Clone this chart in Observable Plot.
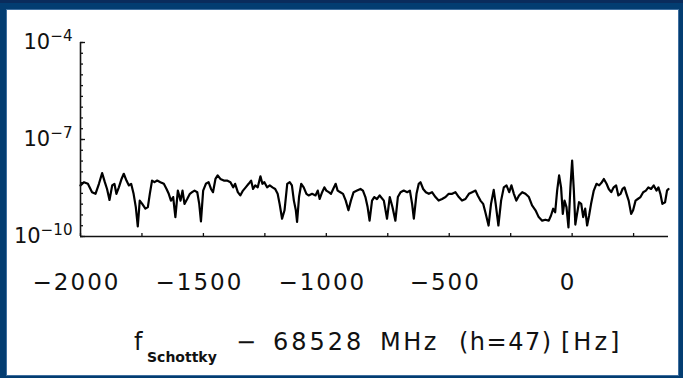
<!DOCTYPE html>
<html>
<head>
<meta charset="utf-8">
<script src="https://cdn.jsdelivr.net/npm/d3@7"></script>
<script src="https://cdn.jsdelivr.net/npm/@observablehq/plot@0.6"></script>
<style>
  html, body { margin: 0; padding: 0; }
  body { width: 683px; height: 378px; background: #033d71; position: relative; overflow: hidden; font-family: "DejaVu Sans", sans-serif; }
  #strip { position: absolute; left: 0; top: 0; width: 683px; height: 3px; background: #0a2c5c; }
  #panel { position: absolute; left: 7px; top: 10px; width: 671px; height: 365px; background: #fff; box-shadow: 0 0 0 1px #3f6f9f; }
  #chart { position: absolute; left: 0; top: 0; }
  .tt { position: absolute; top: 330px; font-size: 24px; line-height: 24px; white-space: pre; color: #111; letter-spacing: 1.5px; }
  .tt.sub { top: 350px; font-size: 14px; line-height: 14px; font-weight: bold; letter-spacing: 0; }
</style>
</head>
<body>
<div id="strip"></div>
<div id="panel"></div>
<div id="chart"></div>
<div id="xtitle">
  <span class="tt" style="left:134px">f</span>
  <span class="tt sub" style="left:147px">Schottky</span>
  <span class="tt" style="left:236px">−</span>
  <span class="tt" style="left:273px; letter-spacing:3px">68528</span>
  <span class="tt" style="left:380px; letter-spacing:2.5px">MHz</span>
  <span class="tt" style="left:459px">(h=47)</span>
  <span class="tt" style="left:561px; letter-spacing:3px">[Hz]</span>
</div>
<script>
// Schottky noise spectrum: frequency offset (Hz) and log10 of spectral power
const freq = [
  -2000, -1986, -1970, -1953, -1939, -1925, -1912, -1901, -1892, -1882,
  -1871, -1862, -1854, -1844, -1833, -1824, -1813, -1803, -1794, -1784,
  -1775, -1767, -1759, -1749, -1736, -1726, -1718, -1709, -1699, -1688,
  -1675, -1661, -1650, -1641, -1632, -1623, -1614, -1604, -1593, -1585,
  -1577, -1566, -1555, -1546, -1536, -1525, -1517, -1510, -1501, -1490,
  -1479, -1469, -1461, -1451, -1442, -1431, -1417, -1404, -1390, -1379,
  -1371, -1360, -1350, -1339, -1328, -1316, -1306, -1298, -1289, -1279,
  -1268, -1260, -1252, -1241, -1230, -1219, -1208, -1198, -1190, -1180,
  -1170, -1159, -1149, -1140, -1132, -1124, -1119, -1111, -1102, -1092,
  -1081, -1072, -1058, -1044, -1035, -1027, -1017, -1008, -1000, -990,
  -981, -972, -962, -954, -943, -932, -921, -910, -900, -889,
  -875, -861, -851, -841, -832, -824, -814, -805, -794, -783,
  -766, -753, -742, -731, -719, -709, -698, -685, -671, -660,
  -651, -644, -633, -624, -617, -606, -595, -583, -570, -556,
  -543, -529, -515, -502, -488, -475, -461, -448, -434, -420,
  -407, -393, -384, -373, -362, -353, -340, -330, -319, -311,
  -300, -289, -278, -267, -256, -247, -237, -227, -216, -203,
  -190, -176, -163, -149, -136, -122, -109, -95, -86, -77,
  -69, -61, -53, -45, -38, -31, -23, -15, -7, 0,
  7, 13, 20, 28, 37, 45, 53, 61, 69, 77,
  88, 99, 110, 121, 129, 140, 149, 159, 169, 179,
  188, 197, 205, 213, 221, 230, 240, 248, 258, 267,
  278, 289, 300, 310, 321, 332, 343, 351, 359, 367,
  378, 386, 392
];
const level = [
  -8.42, -8.32, -8.37, -8.63, -8.68, -8.37, -8.04, -8.32, -8.53, -8.87,
  -8.42, -8.37, -8.68, -8.48, -8.22, -8.06, -8.27, -8.42, -8.37, -8.68,
  -9.09, -9.69, -8.89, -8.99, -9.14, -9.09, -8.68, -8.27, -8.32, -8.27,
  -8.32, -8.37, -8.53, -8.68, -8.89, -8.78, -9.40, -8.58, -8.89, -8.58,
  -8.99, -8.84, -8.68, -8.63, -8.58, -8.63, -8.99, -9.53, -8.58, -8.37,
  -8.32, -8.53, -8.63, -8.22, -8.11, -8.22, -8.27, -8.27, -8.32, -8.48,
  -8.37, -8.63, -8.73, -8.58, -8.48, -8.37, -8.27, -8.53, -8.42, -8.48,
  -8.14, -8.37, -8.32, -8.48, -8.42, -8.48, -8.53, -8.68, -8.99, -9.45,
  -9.19, -8.37, -8.32, -8.42, -8.89, -9.19, -9.55, -8.78, -8.37, -8.48,
  -8.68, -8.73, -8.68, -8.73, -8.58, -8.84, -8.63, -8.48, -8.58, -8.63,
  -8.68, -8.53, -8.37, -8.58, -8.63, -8.68, -8.89, -9.19, -8.89, -8.63,
  -8.58, -8.53, -8.58, -8.78, -9.09, -9.51, -8.89, -8.78, -8.84, -8.73,
  -8.89, -9.45, -8.78, -9.09, -9.51, -8.78, -8.63, -8.58, -8.63, -8.58,
  -8.99, -9.45, -8.68, -8.37, -8.32, -8.53, -8.63, -8.68, -8.63, -8.78,
  -8.89, -8.84, -8.78, -8.68, -8.68, -8.63, -8.78, -8.89, -8.84, -8.68,
  -8.63, -8.58, -8.73, -8.89, -8.99, -9.25, -9.66, -8.99, -8.56, -8.99,
  -9.66, -8.89, -8.48, -8.42, -8.63, -8.42, -8.68, -8.89, -8.73, -8.63,
  -8.68, -8.78, -9.04, -9.19, -9.40, -9.51, -9.48, -9.51, -9.35, -9.14,
  -9.25, -8.58, -8.11, -8.48, -9.30, -8.89, -9.09, -9.72, -8.48, -7.65,
  -8.58, -9.63, -9.30, -8.94, -8.99, -9.40, -9.14, -9.66, -9.35, -8.99,
  -8.58, -8.37, -8.42, -8.32, -8.22, -8.37, -8.53, -8.63, -8.48, -8.42,
  -8.73, -8.68, -8.53, -8.48, -8.68, -8.89, -9.30, -9.19, -8.89, -8.84,
  -8.78, -8.63, -8.58, -8.48, -8.53, -8.42, -8.58, -8.48, -8.68, -8.99,
  -8.94, -8.58, -8.53
];

// Axis ticks
const xLabelTicks = [-2000, -1500, -1000, -500, 0];
const xMinorTicks = [-2000, -1750, -1500, -1250, -1000, -750, -500, -250, 0, 250];
const yLabelTicks = [1e-4, 1e-7, 1e-10];
const yMinorTicks = d3.range(-30, -11).map(k => 10 ** (k / 3));

const spectrum = freq.map((f, i) => ({f, p: 10 ** level[i]}));

const W = 683, H = 300;
const mL = 80, mR = 15, mT = 42, mB = 64;
const frameW = W - mL - mR, frameH = H - mT - mB;

const chart = Plot.plot({
  width: W,
  height: H,
  marginLeft: mL,
  marginRight: mR,
  marginTop: mT,
  marginBottom: mB,
  style: {background: "transparent", fontFamily: "DejaVu Sans, sans-serif", color: "#111"},
  x: {domain: [-2000, 392]},
  y: {type: "log", domain: [1e-10, 1e-4]},
  marks: [
    // inward ticks on both axes
    Plot.ruleX(xMinorTicks, {x: d => d, insetTop: frameH - 3, stroke: "#111", strokeWidth: 1.3}),
    Plot.ruleY(yMinorTicks, {y: d => d, insetRight: frameW - 3, stroke: "#111", strokeWidth: 1.3}),
    Plot.ruleY(yLabelTicks, {y: d => d, insetRight: frameW - 5, stroke: "#111", strokeWidth: 1.3}),
    // tick labels
    Plot.axisX({ticks: xLabelTicks, tickSize: 0, tickPadding: 37, fontSize: 23, dx: -4, label: null,
                tickFormat: d => d < 0 ? "\u2212" + Math.abs(d) : String(d)}),
    Plot.axisY({ticks: yLabelTicks, tickSize: 0, tickPadding: 8, fontSize: 21, label: null,
                tickFormat: d => "10^\u2212" + Math.round(-Math.log10(d))}),
    // the spectrum trace
    Plot.line(spectrum, {x: "f", y: "p", stroke: "#000", strokeWidth: 2.2, strokeLinejoin: "round"}),
    // axis lines
    Plot.ruleX([-2000], {stroke: "#111", strokeWidth: 1.6}),
    Plot.ruleY([1e-10], {stroke: "#111", strokeWidth: 1.6})
  ]
});

// wider spacing for the frequency labels
d3.select(chart).selectAll('g[aria-label="x-axis tick label"] text')
  .attr("letter-spacing", "2px");

// powers of ten: split "10^−n" into base and superscript
d3.select(chart).selectAll('g[aria-label="y-axis tick label"] text').each(function () {
  const [base, exp] = this.textContent.split("^");
  this.textContent = base;
  d3.select(this).append("tspan").attr("dy", "-0.55em").attr("font-size", "0.72em").text(exp);
});

document.getElementById("chart").appendChild(chart);
</script>
</body>
</html>
